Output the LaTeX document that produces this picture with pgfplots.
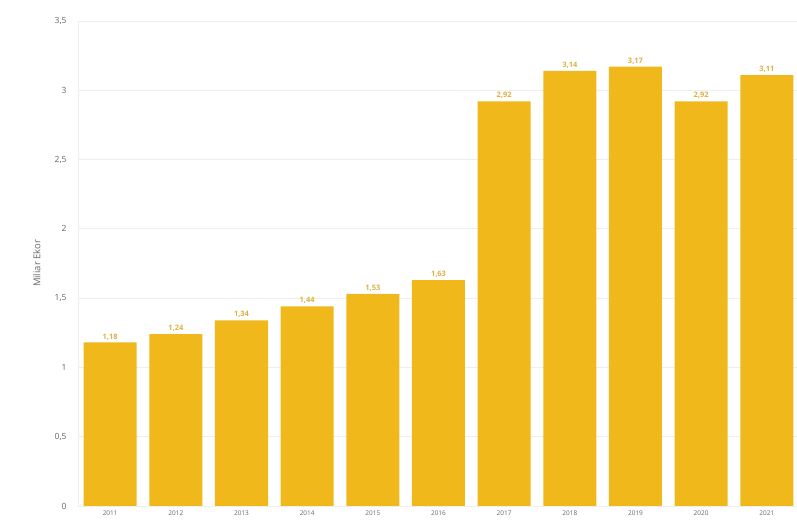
\documentclass[border=0pt]{standalone}
\usepackage{fontspec}
\setmainfont{Open Sans}
\usepackage{pgfplots}
\pgfplotsset{compat=1.18}
\definecolor{bar}{HTML}{F0B81B}
\definecolor{lbl}{HTML}{DDB040}
\definecolor{grd}{HTML}{EEEEEE}
\definecolor{tck}{HTML}{666666}
\begin{document}
\begin{tikzpicture}
\path[use as bounding box] (-78bp,-24bp) rectangle (719bp,506bp);
\begin{axis}[
  scale only axis, width=719bp, height=485bp,
  anchor=south west, at={(0,0)},
  xmin=-0.49, xmax=10.46, ymin=0, ymax=3.5,
  xtick={0,...,10},
  xticklabels={2011,2012,2013,2014,2015,2016,2017,2018,2019,2020,2021},
  ytick={0,0.5,1,1.5,2,2.5,3,3.5},
  yticklabels={0,{0,5},1,{1,5},2,{2,5},3,{3,5}},
  ymajorgrids, grid style={grd, line width=0.8pt},
  axis line style={draw=none},
  major tick length=0pt,
  x tick label style={font=\fontsize{6.5}{7}\selectfont, text=tck, yshift=-1bp},
  y tick label style={font=\fontsize{8.5}{9}\selectfont, text=tck, xshift=-8bp},
  ylabel={Miliar Ekor},
  ylabel style={font=\fontsize{9.5}{10}\selectfont, text=tck, at={(-34bp,0.5)}, anchor=south},
  ybar, bar width=53bp,
  nodes near coords,
  every node near coord/.append style={font=\bfseries\fontsize{7.5}{8}\selectfont, text=lbl, yshift=-1bp},
  /pgf/number format/.cd, fixed, fixed zerofill, precision=2, use comma, assume math mode=true,
  clip=false,
]
\draw[grd, line width=0.8pt] (axis cs:-0.49,0) -- (axis cs:-0.49,3.5);
\addplot[fill=bar, draw=none] coordinates {
(0,1.18) (1,1.24) (2,1.34) (3,1.44) (4,1.53) (5,1.63)
(6,2.92) (7,3.14) (8,3.17) (9,2.92) (10,3.11)};
\end{axis}
\end{tikzpicture}
\end{document}
